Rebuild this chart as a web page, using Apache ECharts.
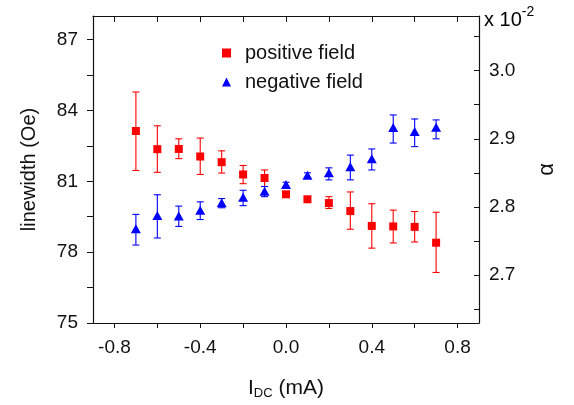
<!DOCTYPE html>
<html><head><meta charset="utf-8">
<script src="https://cdn.jsdelivr.net/npm/echarts@6/dist/echarts.min.js"></script>
<style>html,body{margin:0;padding:0;background:#fff}#c{width:574px;height:405px}</style>
</head><body><div id="c"></div>
<script>
// ---- data ----
const currents = [-0.7,-0.6,-0.5,-0.4,-0.3,-0.2,-0.1,0.0,0.1,0.2,0.3,0.4,0.5,0.6,0.7];
const posVals = [83.13,82.36,82.37,82.05,81.81,81.29,81.14,80.45,80.24,80.08,79.74,79.11,79.09,79.07,78.40];
const posHigh = [84.78,83.35,82.80,82.83,82.29,81.67,81.48,80.55,80.34,80.35,80.55,80.05,79.78,79.72,79.69];
const posLow  = [81.46,81.38,81.96,81.29,81.35,80.90,80.78,80.35,80.14,79.85,78.97,78.17,78.39,78.43,77.14];
const negVals = [78.99,79.55,79.53,79.77,80.09,80.33,80.58,80.86,81.26,81.36,81.62,81.95,83.28,83.11,83.29];
const negHigh = [79.60,80.43,79.95,80.13,80.27,80.62,80.78,80.96,81.36,81.57,82.11,82.37,83.81,83.64,83.60];
const negLow  = [78.30,78.60,79.09,79.38,79.88,79.97,80.35,80.76,81.16,81.06,81.06,81.48,82.62,82.47,82.80];
const xTicks = [-0.8,-0.6,-0.4,-0.2,0,0.2,0.4,0.6,0.8];
const xLabels = [-0.8,-0.4,0,0.4,0.8];
const yTicks = [75,76.5,78,79.5,81,82.5,84,85.5,87];
const yLabels = [75,78,81,84,87];
const aTicks = [2.65,2.7,2.75,2.8,2.85,2.9,2.95,3.0,3.05];
const aLabels = [2.7,2.8,2.9,3.0];

const FONT = '"Liberation Sans", Arial, Helvetica, sans-serif';
const RED = '#ff0000', BLUE = '#0000ff';

function errRender(color){
  return function(params, api){
    const x = api.value(0);
    const lo = api.coord([x, api.value(1)]);
    const hi = api.coord([x, api.value(2)]);
    const hw = 3.5;
    const st = {stroke: color, lineWidth: 1.1};
    return {type:'group', children:[
      {type:'line', shape:{x1:lo[0],y1:lo[1],x2:hi[0],y2:hi[1]}, style:st},
      {type:'line', shape:{x1:lo[0]-hw,y1:lo[1],x2:lo[0]+hw,y2:lo[1]}, style:st},
      {type:'line', shape:{x1:hi[0]-hw,y1:hi[1],x2:hi[0]+hw,y2:hi[1]}, style:st}
    ]};
  };
}

const posPts = currents.map((c,i)=>[c,posVals[i]]);
const negPts = currents.map((c,i)=>[c,negVals[i]]);
const posErr = currents.map((c,i)=>[c,posLow[i],posHigh[i]]);
const negErr = currents.map((c,i)=>[c,negLow[i],negHigh[i]]);

const axisCommon = {
  splitLine:{show:false},
  axisLine:{onZero:false, lineStyle:{color:'#111', width:1.2}},
};
const lblStyle = {fontFamily:FONT, fontSize:19, color:'#111'};

const chart = echarts.init(document.getElementById('c'));
chart.setOption({
  animation:false,
  backgroundColor:'#fff',
  grid:{left:93, right:95, top:16, bottom:79},
  legend:{
    orient:'vertical', left:217, top:38, itemGap:9,
    itemWidth:9, itemHeight:9,
    textStyle:{fontFamily:FONT, fontSize:20, color:'#111', padding:[0,0,0,9], lineHeight:20},
    data:[{name:'positive field', icon:'rect'},{name:'negative field', icon:'triangle'}]
  },
  xAxis:[
    Object.assign({}, axisCommon, {
      type:'value', position:'bottom', min:-0.9, max:0.9,
      axisTick:{inside:false, length:5, customValues:xTicks, lineStyle:{color:'#111'}},
      axisLabel:Object.assign({customValues:xLabels, margin:15, formatter:v=>v.toFixed(1)}, lblStyle),
      name:'{a|I}{b|DC}{a| (mA)}', nameLocation:'middle', nameGap:54,
      nameTextStyle:{fontFamily:FONT, color:'#111', rich:{
        a:{fontFamily:FONT, fontSize:21, color:'#111'},
        b:{fontFamily:FONT, fontSize:13, color:'#111', padding:[10,0,0,0]}
      }}
    }),
    Object.assign({}, axisCommon, {
      type:'value', position:'top', min:-0.9, max:0.9,
      axisTick:{inside:true, length:6, customValues:xTicks, lineStyle:{color:'#111'}},
      axisLabel:{show:false}
    })
  ],
  yAxis:[
    Object.assign({}, axisCommon, {
      type:'value', position:'left', min:75, max:88,
      axisTick:{inside:false, length:6, customValues:yTicks, lineStyle:{color:'#111'}},
      axisLabel:Object.assign({customValues:yLabels, margin:15}, lblStyle),
      name:'linewidth (Oe)', nameLocation:'middle', nameGap:54, nameRotate:90,
      nameTextStyle:{fontFamily:FONT, fontSize:20, color:'#111'}
    }),
    Object.assign({}, axisCommon, {
      type:'value', position:'right', min:2.63, max:3.08,
      axisTick:{inside:true, length:5, customValues:aTicks, lineStyle:{color:'#111'}},
      axisLabel:Object.assign({customValues:aLabels, margin:10, formatter:v=>v.toFixed(1)}, lblStyle),
      name:'α', nameLocation:'middle', nameGap:57, nameRotate:90,
      nameTextStyle:{fontFamily:FONT, fontSize:22, color:'#111'}
    })
  ],
  graphic:[{
    type:'text', left:484, top:5,
    style:{text:'{a|x 10}{b|-2}', rich:{
      a:{fontFamily:FONT, fontSize:20, color:'#111', padding:[8,0,0,0]},
      b:{fontFamily:FONT, fontSize:14, color:'#111', padding:[0,0,8,0]}
    }}
  }],
  series:[
    {type:'custom', name:'posErr', xAxisIndex:0, yAxisIndex:0, renderItem:errRender(RED), data:posErr, encode:{x:0,y:[1,2]}, z:2, silent:true},
    {type:'custom', name:'negErr', xAxisIndex:0, yAxisIndex:0, renderItem:errRender(BLUE), data:negErr, encode:{x:0,y:[1,2]}, z:2, silent:true},
    {type:'scatter', name:'positive field', symbol:'rect', symbolSize:8, itemStyle:{color:RED, opacity:1}, data:posPts, z:3},
    {type:'scatter', name:'negative field', symbol:'triangle', symbolSize:[10,9], itemStyle:{color:BLUE, opacity:1}, data:negPts, z:3}
  ]
});
</script></body></html>
